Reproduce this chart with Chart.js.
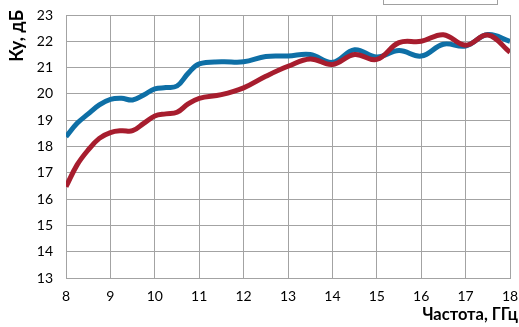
<!DOCTYPE html>
<html>
<head>
<meta charset="utf-8">
<script src="https://cdn.jsdelivr.net/npm/chart.js@4"></script>
<style>
  html, body { margin: 0; padding: 0; background: #fff; }
  #wrap { width: 519px; height: 327px; }
</style>
</head>
<body>
<div id="wrap"><canvas id="myChart" width="519" height="327"></canvas></div>
<script>
// частоты, ГГц
var freq = [8, 8.25, 8.5, 8.75, 9, 9.25, 9.5, 9.75, 10, 10.25, 10.5, 10.75, 11, 11.5, 12, 12.5, 13, 13.5, 14, 14.5, 15, 15.5, 16, 16.5, 17, 17.5, 18];
// Ку, дБ - синяя кривая
var kuBlue = [18.37, 18.88, 19.24, 19.58, 19.79, 19.83, 19.77, 19.96, 20.19, 20.24, 20.3, 20.78, 21.14, 21.22, 21.22, 21.42, 21.44, 21.5, 21.2, 21.68, 21.4, 21.65, 21.44, 21.89, 21.82, 22.26, 22.0];
// Ку, дБ - красная кривая
var kuRed = [16.47, 17.3, 17.87, 18.31, 18.53, 18.6, 18.6, 18.88, 19.16, 19.24, 19.3, 19.62, 19.83, 19.97, 20.23, 20.67, 21.05, 21.33, 21.12, 21.5, 21.31, 21.95, 22.0, 22.25, 21.85, 22.24, 21.58];

var xTitle = 'Частота, ГГц';
var yTitle = 'Ку, дБ';

function toPoints(xs, ys) {
    return xs.map(function (x, i) { return { x: x, y: ys[i] }; });
}

var gridColor = '#a3a3a3';

// подписи осей и рамка легенды (обрезана сверху)
var extras = {
    id: 'extras',
    afterDraw: function (chart) {
        var ctx = chart.ctx;
        ctx.save();
        ctx.fillStyle = '#000';
        ctx.font = 'bold 16.5px Lato';
        ctx.textAlign = 'right';
        ctx.textBaseline = 'middle';
        ctx.fillText(xTitle, 518, 315);
        ctx.font = 'bold 18px Lato';
        ctx.translate(17, 10);
        ctx.rotate(-Math.PI / 2);
        ctx.textAlign = 'right';
        ctx.fillText(yTitle, 0, 0);
        ctx.restore();

        ctx.save();
        ctx.strokeStyle = '#a0a0a0';
        ctx.lineWidth = 1;
        ctx.strokeRect(383.5, -20, 114, 24.5);
        ctx.restore();
    }
};

var ctx = document.getElementById('myChart').getContext('2d');
new Chart(ctx, {
    type: 'line',
    data: {
        datasets: [{
            label: 'red',
            data: toPoints(freq, kuRed),
            borderColor: '#a71d2e',
            borderWidth: 5,
            pointRadius: 0,
            tension: 0.4,
            fill: false
        }, {
            label: 'blue',
            data: toPoints(freq, kuBlue),
            borderColor: '#0e6fa6',
            borderWidth: 5,
            pointRadius: 0,
            tension: 0.4,
            fill: false
        }]
    },
    options: {
        responsive: false,
        animation: false,
        layout: { padding: { top: 15, right: 9, left: 0, bottom: 0 } },
        plugins: {
            legend: { display: false },
            tooltip: { enabled: false }
        },
        scales: {
            x: {
                type: 'linear',
                min: 8,
                max: 18,
                ticks: {
                    stepSize: 1,
                    color: '#000',
                    padding: 10,
                    maxRotation: 0,
                    font: { family: 'Lato', size: 14 }
                },
                grid: { color: gridColor, lineWidth: 1, drawTicks: false },
                border: { color: gridColor, width: 1 },
                afterFit: function (scale) {
                    scale.height = 49;
                    scale.paddingLeft = 0;
                    scale.paddingRight = 0;
                }
            },
            y: {
                min: 13,
                max: 23,
                ticks: {
                    stepSize: 1,
                    color: '#000',
                    padding: 13,
                    font: { family: 'Lato', size: 14 }
                },
                grid: { color: gridColor, lineWidth: 1, drawTicks: false },
                border: { color: gridColor, width: 1 },
                afterFit: function (scale) {
                    scale.width = 66;
                    scale.paddingTop = 0;
                    scale.paddingBottom = 0;
                }
            }
        }
    },
    plugins: [extras]
});
</script>
</body>
</html>
